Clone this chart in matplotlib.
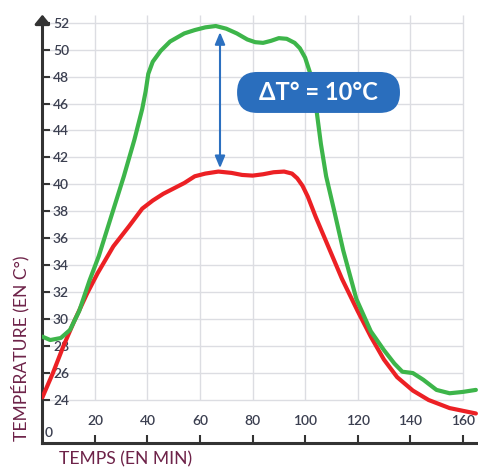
import matplotlib.pyplot as plt
from matplotlib.patches import FancyBboxPatch

plt.rcParams['font.family'] = ['Lato', 'DejaVu Sans']

# courbe rouge
red_t = [0, 4, 8, 12, 17, 21, 27, 33, 38, 42, 46, 50, 54, 58, 62, 67, 72, 76, 80,
         84, 88, 92, 95, 97, 99, 101, 104, 109, 114, 120, 125, 130, 135, 141, 147,
         155, 165]
red_temp = [24.2, 26.0, 28.0, 29.8, 31.9, 33.4, 35.4, 36.9, 38.2, 38.8, 39.3, 39.7,
            40.1, 40.6, 40.8, 40.95, 40.85, 40.7, 40.65, 40.75, 40.9, 40.95, 40.8,
            40.45, 39.9, 39.1, 37.6, 35.3, 33.0, 30.6, 28.7, 27.0, 25.7, 24.7, 24.0,
            23.4, 23.0]

# courbe verte
green_t = [0, 3, 7, 10.5, 14, 18, 21.5, 26, 31, 35, 38, 39.3, 40.3, 42, 45, 48.6,
           54, 58, 62, 66, 70, 74, 78, 81, 84, 87, 90, 93, 96, 98, 100, 102, 104,
           106, 108, 111, 114.5, 119.5, 125, 130, 134, 137, 141, 145, 150, 155, 160,
           165]
green_temp = [28.7, 28.45, 28.6, 29.2, 30.6, 32.9, 34.7, 37.5, 40.6, 43.3, 45.6,
              46.9, 48.2, 49.1, 49.9, 50.6, 51.2, 51.45, 51.65, 51.75, 51.55, 51.2,
              50.75, 50.55, 50.5, 50.65, 50.85, 50.8, 50.5, 50.1, 49.4, 48.2, 46.0,
              43.0, 40.6, 38.1, 35.1, 31.5, 29.1, 27.7, 26.7, 26.1, 26.0, 25.5,
              24.75, 24.5, 24.6, 24.75]

x_ticks = [20, 40, 60, 80, 100, 120, 140, 160]
y_ticks = list(range(24, 53, 2))

delta_low, delta_high = 41.2, 51.3
delta_t = 67.6
delta_label = "ΔT° = 10°C"

W, H = 478, 468
fig = plt.figure(figsize=(W / 100, H / 100), dpi=100)
ax = fig.add_axes([42.4 / W, 25 / H, 1 - 42.4 / W, 1 - 25 / H])
ax.set_xlim(0, 165.8)
ax.set_ylim(20.81, 53.68)

# grille
grid_c = '#dcdde2'
ax.hlines(y_ticks, 0, 160, color=grid_c, lw=1, zorder=0)
ax.vlines(x_ticks, 24, 52.55, color=grid_c, lw=1, zorder=0)

ax.plot(red_t, red_temp, color='#ec2024', lw=3, solid_capstyle='round',
        solid_joinstyle='round', zorder=3)
ax.plot(green_t, green_temp, color='#3db54a', lw=3, solid_capstyle='round',
        solid_joinstyle='round', zorder=4)

# axes
axis_c = '#333333'
for s in ['top', 'right']:
    ax.spines[s].set_visible(False)
ax.spines['left'].set_linewidth(2.2)
ax.spines['bottom'].set_linewidth(2.2)
ax.spines['left'].set_color(axis_c)
ax.spines['bottom'].set_color(axis_c)
ax.spines['left'].set_bounds(20.81, 52.1)
ax.annotate('', xy=(0, 52.6), xytext=(0, 51.9),
            arrowprops=dict(arrowstyle='-|>,head_length=0.55,head_width=0.45',
                            color=axis_c, lw=2.2, shrinkA=0, shrinkB=0,
                            mutation_scale=10), annotation_clip=False)

tick_c = '#3b3f50'
ax.set_yticks(y_ticks, [str(v) for v in y_ticks])
ax.set_xticks(x_ticks, [str(v) for v in x_ticks])
ax.tick_params(axis='y', direction='in', length=5.5, width=1.5, pad=-7.6,
               colors=axis_c, labelcolor=tick_c, labelsize=10)
ax.tick_params(axis='x', direction='in', length=6, width=1.5, pad=-20,
               colors=axis_c, labelcolor=tick_c, labelsize=10)
for lab in ax.get_yticklabels() + ax.get_xticklabels():
    lab.set_fontweight('semibold')
for lab in ax.get_yticklabels():
    lab.set_horizontalalignment('left')
ax.annotate('0', xy=(0, 20.81), xytext=(4.5, 7), textcoords='offset points',
            ha='center', va='center', fontsize=10, fontweight='semibold',
            color=tick_c)

label_c = '#6e2349'
fig.text(20 / W, 1 - 348 / H, "TEMPÉRATURE (EN C°)", rotation=90, ha='center',
         va='center', fontsize=12.6, color=label_c)
fig.text(126 / W, 1 - 459 / H, "TEMPS (EN MIN)", ha='center', va='center',
         fontsize=12.6, color=label_c)

# flèche ΔT
blue = '#2c70c0'
ax.annotate('', xy=(delta_t, delta_high), xytext=(delta_t, delta_low),
            arrowprops=dict(arrowstyle='<|-|>,head_length=0.6,head_width=0.25',
                            color=blue, lw=1.5, shrinkA=0, shrinkB=0,
                            mutation_scale=12), zorder=5)

box = FancyBboxPatch((74.1, 45.3), 62.0, 3.04,
                     boxstyle='round,pad=0,rounding_size=7.7',
                     mutation_aspect=2.627 / 13.48,
                     fc='#2a6ebd', ec='none', zorder=6)
ax.add_patch(box)
ax.text(105.1, 46.82, delta_label, color='white', fontsize=17, weight='bold',
        ha='center', va='center', zorder=7)

fig.savefig('out.png', dpi=100)
